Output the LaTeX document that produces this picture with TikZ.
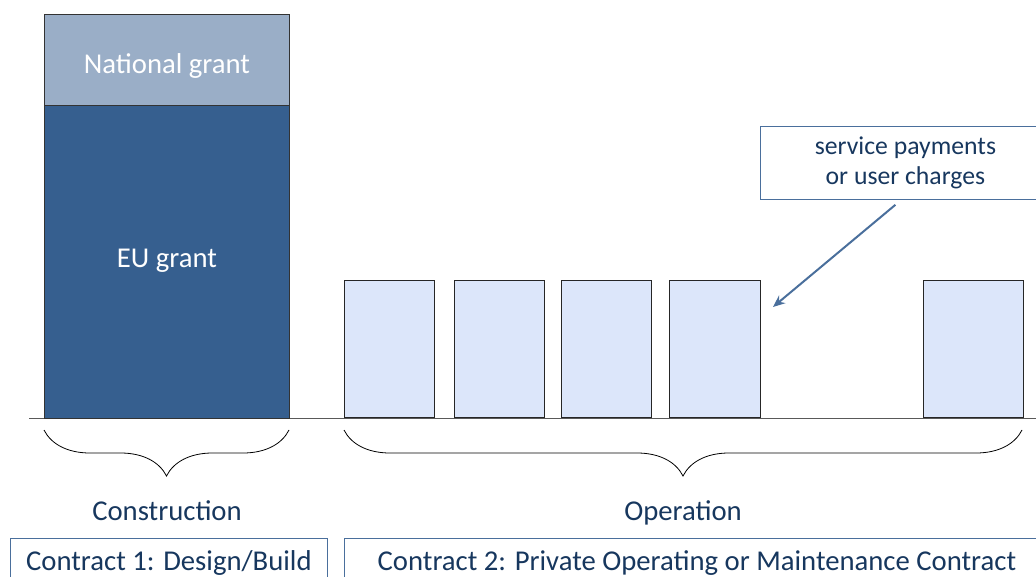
\documentclass[tikz,border=0pt]{standalone}
\usepackage{fontspec}
\setmainfont{Carlito}
\usetikzlibrary{calc}
\usetikzlibrary{positioning}
\usetikzlibrary{arrows.meta}
\usetikzlibrary{decorations.pathreplacing}
\definecolor{natfill}{HTML}{9AAEC7}
\definecolor{eufill}{HTML}{365F8F}
\definecolor{opfill}{HTML}{DCE6FA}
\definecolor{navy}{HTML}{17375E}
\definecolor{frameblue}{HTML}{4A6F9C}
\tikzstyle{grantbar} = [draw=black!80, line width=1pt, minimum width=245pt, inner sep=0, anchor=north west, text=white, font=\fontsize{28.7}{33}\selectfont]
\tikzstyle{opbar} = [draw=black!85, line width=1pt, fill=opfill, minimum width=90pt, minimum height=137pt, inner sep=0, anchor=south west]
\tikzstyle{phase} = [text=navy, font=\fontsize{28.7}{33}\selectfont]
\tikzstyle{contractbox} = [draw=frameblue, line width=0.8pt, text=navy, inner sep=0, anchor=north west, minimum height=50pt, font=\fontsize{28.7}{33}\selectfont]
\tikzstyle{phasebrace} = [decorate, decoration={brace, mirror, amplitude=46pt}, line width=0.8pt]

\begin{document}
\begin{tikzpicture}[x=1pt, y=-1pt]
    \useasboundingbox (0,0) rectangle (1036,577);
    \clip (0,0) rectangle (1036,577);
    % time axis
    \draw[black!65, line width=1pt] (29,418) -- (1036,418);
    \node[grantbar, fill=natfill, minimum height=91pt] (national) at (44,14) {\raisebox{-13.5pt}[0pt][0pt]{National grant}};
    \node[grantbar, fill=eufill, minimum height=313pt] (eu) at (44,105) {\raisebox{-5.5pt}[0pt][0pt]{EU grant}};
    \node[opbar] (op1) at (344,418) {};
    \node[opbar] (op2) at (454,418) {};
    \node[opbar] (op3) at (561,418) {};
    \node[opbar, minimum width=91pt] (op4) at (669,418) {};
    \node[opbar, minimum width=100pt] (op5) at (923,418) {};
    \draw[phasebrace] (44,430) -- (289,430);
    \draw[phasebrace] (344,430) -- (1022,430);
    \node[phase] (construction) at (167,511) {Construction};
    \node[phase] (operation) at (683,513) {Operation};
    \node[contractbox, minimum width=317pt] (contract1) at (10,538) {Contract 1: Design/Build};
    \node[contractbox, minimum width=705pt] (contract2) at (344,538) {Contract 2: Private Operating or Maintenance Contract};
    \node[draw=frameblue, line width=0.8pt, text=navy, anchor=north west, minimum width=290pt, minimum height=73pt, inner sep=0, align=center, font=\fontsize{25.7}{30}\selectfont] (payments) at (760,126) {service payments\\or user charges};
    \coordinate (arrow_tail) at ($(payments.south)+(-10,5)$);
    \coordinate (arrow_head) at (773,307);
    \draw[frameblue, line width=2pt, -{Stealth[length=12pt, width=10pt]}] (arrow_tail) -- (arrow_head);
\end{tikzpicture}
\end{document}
